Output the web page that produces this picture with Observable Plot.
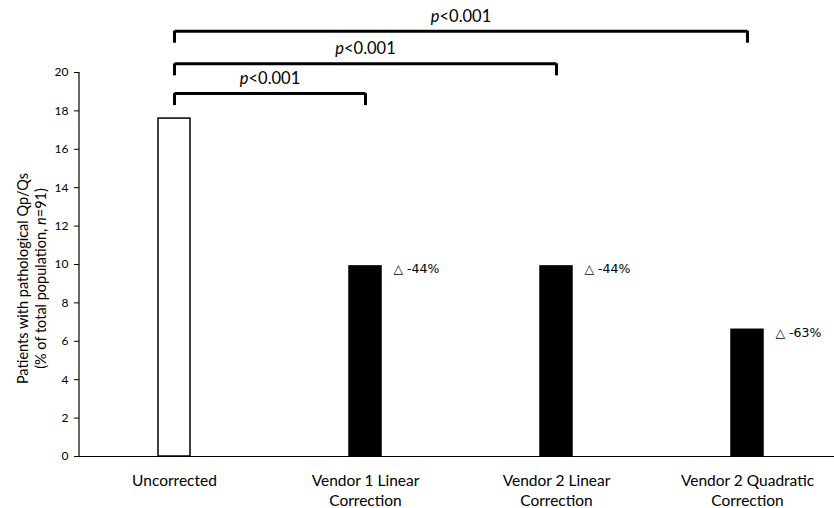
<!DOCTYPE html>
<html>
<head>
<meta charset="utf-8">
<script src="https://cdn.jsdelivr.net/npm/d3@7"></script>
<script src="https://cdn.jsdelivr.net/npm/@observablehq/plot@0.6"></script>
<style>
  html, body { margin: 0; padding: 0; background: #fff; }
  #chart svg { display: block; }
</style>
</head>
<body>
<div id="chart"></div>
<script>
// ---- data ----
const categories = ["Uncorrected", "Vendor 1 Linear Correction", "Vendor 2 Linear Correction", "Vendor 2 Quadratic Correction"];
const tickLabels = ["Uncorrected", "Vendor 1 Linear\nCorrection", "Vendor 2 Linear\nCorrection", "Vendor 2 Quadratic\nCorrection"];
const values = [17.6, 9.9, 9.9, 6.6];
const changeLabels = ["", "△ -44%", "△ -44%", "△ -63%"];
const yTicks = [0, 2, 4, 6, 8, 10, 12, 14, 16, 18, 20];
const bracketFrom = ["Uncorrected", "Uncorrected", "Uncorrected"];
const bracketTo = ["Vendor 1 Linear Correction", "Vendor 2 Linear Correction", "Vendor 2 Quadratic Correction"];
const bracketLevel = [18.9, 20.45, 22.15];
const bracketLabel = ["p<0.001", "p<0.001", "p<0.001"];
const yLabelLines = ["Patients with pathological Qp/Qs", "(% of total population, n=91)"];

// ---- layout ----
const W = 834, H = 508;
const mLeft = 79, mTop = 72, mBottom = 52;
const xRange = [79, 843];
const step = (xRange[1] - xRange[0]) / categories.length;
const pxPerUnit = (H - mTop - mBottom) / 20;
const tickDrop = 12 / pxPerUnit;

const bars = categories.map((c, i) => ({cat: c, value: values[i], change: changeLabels[i], label: tickLabels[i], first: i === 0}));
const brackets = bracketFrom.map((f, i) => ({from: f, to: bracketTo[i], level: bracketLevel[i], label: bracketLabel[i]}));
const bracketEnds = brackets.flatMap(b => [{x: b.from, level: b.level}, {x: b.to, level: b.level}]);

const FONT = "Lato, 'Open Sans', sans-serif";

const marks = [
  Plot.axisY({ticks: yTicks, tickSize: 5, tickPadding: 6, tickFormat: d => d, label: null, fontSize: 12, fontFamily: FONT, stroke: "#000", color: "#000"}),
  Plot.barY(bars, {x: "cat", y: "value", fill: d => d.first ? "#fff" : "#000", stroke: "#000", strokeWidth: 1.5}),
  Plot.ruleY([0], {stroke: "#000", strokeWidth: 1.2}),
  Plot.text(bars, {x: "cat", y: "value", text: "change", textAnchor: "start", dx: 28, dy: 3, fontSize: 12.5, fontFamily: "'DejaVu Sans', 'Liberation Sans', Arial, sans-serif", fill: "#000"}),
  Plot.text(bars, {x: "cat", text: "label", frameAnchor: "bottom", lineAnchor: "top", dy: 15, fontSize: 15.5, lineHeight: 1.32, fontFamily: FONT, fill: "#000"}),
  Plot.link(brackets, {x1: "from", x2: "to", y1: "level", y2: "level", stroke: "#000", strokeWidth: 3}),
  Plot.ruleX(bracketEnds, {x: "x", y1: "level", y2: d => d.level - tickDrop, stroke: "#000", strokeWidth: 3}),
  ...brackets.map(b => Plot.text([b], {
    x: "from", y: "level", text: "label",
    dx: (categories.indexOf(b.to) - categories.indexOf(b.from)) / 2 * step,
    dy: -15, fontSize: 16.5, fontFamily: FONT, fill: "#000"
  })),
  ...yLabelLines.map((t, i) => Plot.text([t], {
    text: d => d, frameAnchor: "left", textAnchor: "middle", lineAnchor: "middle", rotate: -90,
    dx: [-56, -38][i], dy: 14, fontSize: 14.5, fontFamily: FONT, fill: "#000"
  }))
];

const plot = Plot.plot({
  width: W, height: H,
  marginLeft: mLeft, marginRight: 0, marginTop: mTop, marginBottom: mBottom,
  style: {background: "#fff", fontFamily: FONT, color: "#000"},
  x: {domain: categories, range: xRange, paddingInner: 0.83, paddingOuter: 0.415, axis: null},
  y: {domain: [0, 20], axis: null},
  marks
});

// y axis line
const svg = d3.select(plot);
svg.append("line")
  .attr("x1", mLeft).attr("x2", mLeft)
  .attr("y1", mTop).attr("y2", H - mBottom)
  .attr("stroke", "#000").attr("stroke-width", 1.2);

// italic letters
svg.selectAll("text").each(function() {
  if (this.querySelector("tspan")) return;
  const t = this.textContent;
  let m;
  if (t.startsWith("p<")) {
    this.textContent = "";
    d3.select(this).append("tspan").attr("font-style", "italic").text("p");
    d3.select(this).append("tspan").text(t.slice(1));
  } else if ((m = t.indexOf("n=")) >= 0 && t.startsWith("(%")) {
    this.textContent = "";
    d3.select(this).append("tspan").text(t.slice(0, m));
    d3.select(this).append("tspan").attr("font-style", "italic").text("n");
    d3.select(this).append("tspan").text(t.slice(m + 1));
  }
});

document.getElementById("chart").appendChild(plot);
</script>
</body>
</html>
